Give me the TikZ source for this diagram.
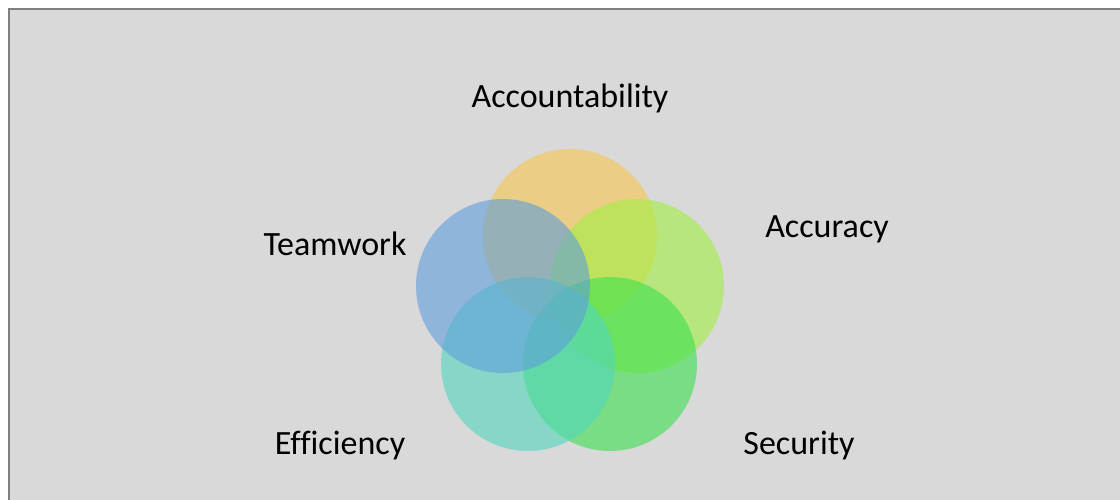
\documentclass[tikz,border=0pt]{standalone}
\usepackage{fontspec}
\setmainfont{Carlito}[Ligatures=CommonOff]
\definecolor{bg}{RGB}{217,217,217}
\definecolor{frame}{RGB}{127,127,127}
\definecolor{cOrange}{RGB}{249,198,77}
\definecolor{cLime}{RGB}{160,240,64}
\definecolor{cGreen}{RGB}{59,225,77}
\definecolor{cTeal}{RGB}{80,215,189}
\definecolor{cBlue}{RGB}{94,157,219}
\begin{document}
\begin{tikzpicture}[x=1pt,y=-1pt,
  petal/.style={circle,minimum size=174pt,inner sep=0pt,fill opacity=0.6},
  lbl/.style={font=\fontsize{34}{40}\selectfont,text=black,inner sep=0pt}]
\useasboundingbox (0,0) rectangle (1120,499);
\clip (0,0) rectangle (1120,499);
\fill[white] (0,0) rectangle (1120,499);
\draw[frame,fill=bg,line width=2pt] (8.5,8.5) rectangle (1140,520);
\node[petal,fill=cOrange] (acc) at (570,236) {};
\node[petal,fill=cLime] (accu) at (637,286) {};
\node[petal,fill=cGreen] (sec) at (610,364) {};
\node[petal,fill=cTeal] (eff) at (528,364) {};
\node[petal,fill=cBlue] (team) at (503,286) {};
\node[lbl] (tacc) at (570,98) {Accountability};
\node[lbl] (taccu) at (827,229) {Accuracy};
\node[lbl] (tteam) at (335,244) {Teamwork};
\node[lbl] (teff) at (340,446) {Efficiency};
\node[lbl] (tsec) at (799,446) {Security};
\end{tikzpicture}
\end{document}
